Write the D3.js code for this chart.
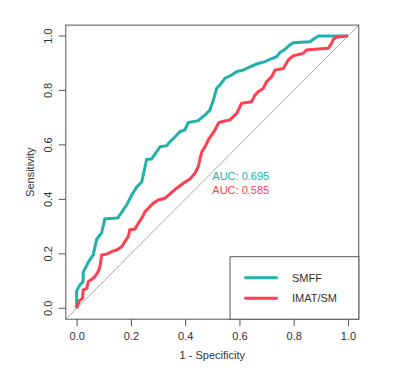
<!DOCTYPE html>
<html>
<head>
<meta charset="utf-8">
<script src="https://cdn.jsdelivr.net/npm/d3@7"></script>
<style>
  body { margin: 0; background: #fff; }
  text { font-family: "Liberation Sans", Arial, sans-serif; }
</style>
</head>
<body>
<script>
// ROC points: [1 - specificity, sensitivity]
var smff = [
  [0,0],[0,0.064],[0.012,0.086],[0.024,0.098],[0.024,0.132],[0.043,0.169],[0.061,0.196],
  [0.074,0.254],[0.092,0.277],[0.104,0.328],[0.152,0.332],[0.184,0.379],[0.203,0.416],
  [0.221,0.445],[0.240,0.465],[0.258,0.547],[0.276,0.548],[0.295,0.575],[0.307,0.593],
  [0.332,0.597],[0.344,0.612],[0.363,0.630],[0.381,0.649],[0.399,0.655],[0.411,0.682],
  [0.448,0.689],[0.473,0.710],[0.491,0.728],[0.504,0.765],[0.516,0.808],[0.528,0.820],
  [0.547,0.845],[0.565,0.853],[0.590,0.869],[0.614,0.875],[0.639,0.887],[0.663,0.897],
  [0.694,0.906],[0.712,0.914],[0.737,0.924],[0.749,0.939],[0.768,0.951],[0.786,0.967],
  [0.798,0.975],[0.860,0.979],[0.878,0.992],[0.891,1.0],[1,1]
];
var imat = [
  [0,0],[0.006,0.018],[0.012,0.030],[0.022,0.037],[0.024,0.067],[0.037,0.073],[0.043,0.098],
  [0.055,0.106],[0.067,0.116],[0.080,0.137],[0.086,0.153],[0.092,0.196],[0.111,0.199],
  [0.129,0.208],[0.147,0.214],[0.166,0.226],[0.178,0.245],[0.190,0.263],[0.196,0.288],
  [0.215,0.291],[0.227,0.312],[0.240,0.331],[0.252,0.355],[0.270,0.373],[0.282,0.386],
  [0.301,0.398],[0.325,0.404],[0.344,0.420],[0.369,0.441],[0.393,0.459],[0.418,0.475],
  [0.436,0.496],[0.448,0.520],[0.461,0.574],[0.473,0.593],[0.485,0.618],[0.510,0.655],
  [0.522,0.679],[0.528,0.684],[0.565,0.692],[0.590,0.716],[0.608,0.753],[0.645,0.759],
  [0.657,0.783],[0.669,0.795],[0.688,0.808],[0.700,0.832],[0.719,0.851],[0.731,0.875],
  [0.762,0.881],[0.780,0.912],[0.798,0.927],[0.835,0.936],[0.848,0.949],[0.878,0.951],
  [0.927,0.955],[0.940,0.973],[0.946,0.988],[0.958,0.995],[0.995,1.0],[1,1]
];
var ticks = [0, 0.2, 0.4, 0.6, 0.8, 1.0];
var seriesNames = ["SMFF", "IMAT/SM"];
var seriesColors = ["#20B2AA", "#FF3F4F"];
var aucLabels = ["AUC: 0.695", "AUC: 0.585"];

var svg = d3.select("body").append("svg")
  .attr("width", 400)
  .attr("height", 370);

var x = d3.scaleLinear().domain([-0.04, 1.04]).range([65.8, 358.8]);
var y = d3.scaleLinear().domain([-0.04, 1.04]).range([319.2, 25.1]);

var boxColor = "#555";

// diagonal reference
svg.append("clipPath").attr("id", "clip")
  .append("rect").attr("x", x(-0.04)).attr("y", y(1.04))
  .attr("width", x(1.04) - x(-0.04)).attr("height", y(-0.04) - y(1.04));

svg.append("line")
  .attr("clip-path", "url(#clip)")
  .attr("x1", x(-0.04)).attr("y1", y(-0.04))
  .attr("x2", x(1.04)).attr("y2", y(1.04))
  .attr("stroke", "#aaa").attr("stroke-width", 1);

var line = d3.line()
  .x(function(d) { return x(d[0]); })
  .y(function(d) { return y(d[1]); });

[smff, imat].forEach(function(s, i) {
  svg.append("path")
    .attr("d", line(s))
    .attr("fill", "none")
    .attr("stroke", seriesColors[i])
    .attr("stroke-width", 3)
    .attr("stroke-linejoin", "miter");
});

// plot box
svg.append("rect")
  .attr("x", x(-0.04)).attr("y", y(1.04))
  .attr("width", x(1.04) - x(-0.04)).attr("height", y(-0.04) - y(1.04))
  .attr("fill", "none").attr("stroke", boxColor).attr("stroke-width", 1);

// axes
var xAxis = d3.axisBottom(x).tickValues(ticks).tickFormat(d3.format(".1f")).tickSize(7).tickPadding(6);
var gx = svg.append("g").attr("transform", "translate(0," + y(-0.04) + ")").call(xAxis);
gx.select(".domain").remove();
gx.selectAll("line").attr("stroke", boxColor);
gx.selectAll("text").attr("font-size", 11).attr("fill", "#333").attr("font-family", "Liberation Sans, Arial, sans-serif");

var yAxis = d3.axisLeft(y).tickValues(ticks).tickFormat(d3.format(".1f")).tickSize(7).tickPadding(0);
var gy = svg.append("g").attr("transform", "translate(" + x(-0.04) + ",0)").call(yAxis);
gy.select(".domain").remove();
gy.selectAll("line").attr("stroke", boxColor);
gy.selectAll("text")
  .attr("font-size", 11).attr("fill", "#333").attr("font-family", "Liberation Sans, Arial, sans-serif")
  .attr("x", null).attr("dy", null)
  .attr("text-anchor", "middle")
  .attr("transform", function(d) { return "translate(-14," + y(d) + ") rotate(-90)"; })
  .attr("y", 0);
gy.selectAll(".tick").attr("transform", null);
gy.selectAll(".tick line").attr("transform", function(d) { return "translate(0," + y(d) + ")"; });

// axis titles
svg.append("text")
  .attr("x", (x(-0.04) + x(1.04)) / 2).attr("y", 359)
  .attr("text-anchor", "middle").attr("font-size", 11).attr("fill", "#333")
  .text("1 - Specificity");
svg.append("text")
  .attr("transform", "translate(34," + ((y(-0.04) + y(1.04)) / 2) + ") rotate(-90)")
  .attr("text-anchor", "middle").attr("font-size", 11).attr("fill", "#333")
  .text("Sensitivity");

// AUC labels
aucLabels.forEach(function(t, i) {
  svg.append("text")
    .attr("x", x(0.5)).attr("y", y(0.5 - 0.05 * i) + 8)
    .attr("font-size", 11).attr("fill", seriesColors[i])
    .text(t);
});

// legend
var lg = svg.append("g");
lg.append("rect")
  .attr("x", 230).attr("y", 256.7)
  .attr("width", x(1.04) - 230).attr("height", y(-0.04) - 256.7)
  .attr("fill", "#fff").attr("stroke", boxColor).attr("stroke-width", 1);
seriesNames.forEach(function(n, i) {
  var ly = 277.7 + i * 20.6;
  lg.append("line")
    .attr("x1", 244.3).attr("x2", 277.7).attr("y1", ly).attr("y2", ly)
    .attr("stroke", seriesColors[i]).attr("stroke-width", 3);
  lg.append("text")
    .attr("x", 292).attr("y", ly + 4)
    .attr("font-size", 11).attr("fill", "#333")
    .text(n);
});
</script>
</body>
</html>
